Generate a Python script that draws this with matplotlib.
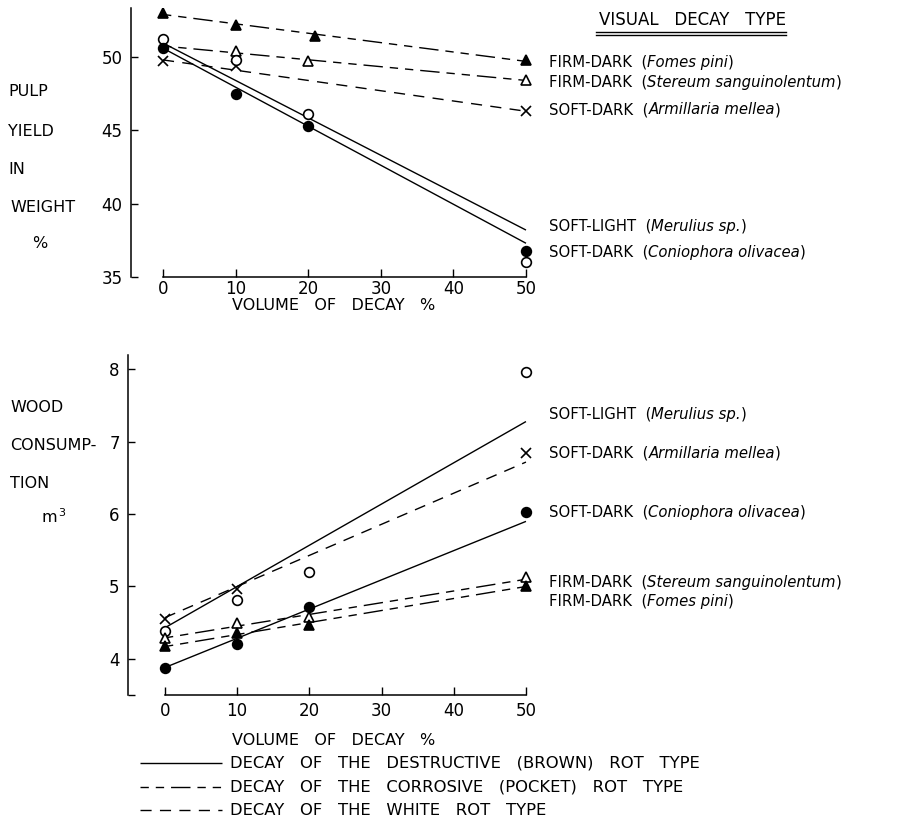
import matplotlib
matplotlib.use("Agg")
import matplotlib.pyplot as plt
from matplotlib.lines import Line2D

# ---------------- data ----------------
x_ticks = [0, 10, 20, 30, 40, 50]
x_tick_labels = ["0", "10", "20", "30", "40", "50"]

# Top panel: pulp yield in weight %
top_y_ticks = [35, 40, 45, 50]
top_y_tick_labels = ["35", "40", "45", "50"]
fomes_top_x = [0, 10, 21, 50]
fomes_top_y = [53.0, 52.2, 51.4, 49.8]
stereum_top_x = [10, 20, 50]
stereum_top_y = [50.4, 49.7, 48.4]
armillaria_top_x = [0, 10, 50]
armillaria_top_y = [49.7, 49.4, 46.3]
merulius_top_x = [0, 10, 20, 50]
merulius_top_y = [51.2, 49.8, 46.1, 36.0]
coniophora_top_x = [0, 10, 20, 50]
coniophora_top_y = [50.6, 47.5, 45.3, 36.8]
# fitted lines (values at x = 0 and x = 50)
line_x = [0, 50]
fomes_top_fit = [52.9, 49.7]
stereum_top_fit = [50.75, 48.4]
armillaria_top_fit = [49.8, 46.3]
merulius_top_fit = [50.95, 38.2]
coniophora_top_fit = [50.6, 37.3]

# Bottom panel: wood consumption m3
bot_y_ticks = [3.5, 4, 5, 6, 7, 8]
bot_y_tick_labels = ["", "4", "5", "6", "7", "8"]
merulius_bot_x = [0, 10, 20, 50]
merulius_bot_y = [4.39, 4.82, 5.20, 7.97]
armillaria_bot_x = [0, 10, 50]
armillaria_bot_y = [4.55, 4.97, 6.85]
coniophora_bot_x = [0, 10, 20, 50]
coniophora_bot_y = [3.88, 4.21, 4.72, 6.03]
stereum_bot_x = [0, 10, 20, 50]
stereum_bot_y = [4.29, 4.50, 4.58, 5.13]
fomes_bot_x = [0, 10, 20, 50]
fomes_bot_y = [4.18, 4.36, 4.47, 5.00]
merulius_bot_fit = [4.43, 7.28]
armillaria_bot_fit = [4.57, 6.72]
coniophora_bot_fit = [3.88, 5.90]
stereum_bot_fit = [4.29, 5.10]
fomes_bot_fit = [4.17, 5.00]

# ---------------- styles ----------------
W, H = 905, 821
FONT = "DejaVu Sans"
plt.rcParams["font.family"] = [FONT]

SOLID = (0, ())
CORROSIVE = (0, (6, 5, 6, 5, 14, 5))
WHITE = (0, (8, 6))

fig = plt.figure(figsize=(W / 100, H / 100), dpi=100)


def fx(px):
    return px / W


def fy(py):
    return 1 - py / H


def setup_axes(ax, xlim, ylim, ybounds, yticks, yticklabels, xpad):
    ax.set_xlim(*xlim)
    ax.set_ylim(*ylim)
    for s in ["top", "right"]:
        ax.spines[s].set_visible(False)
    ax.spines["bottom"].set_bounds(0, 50)
    ax.spines["left"].set_bounds(*ybounds)
    for s in ["bottom", "left"]:
        ax.spines[s].set_linewidth(1.1)
    ax.set_xticks(x_ticks)
    ax.set_xticklabels(x_tick_labels)
    ax.set_yticks(yticks)
    ax.set_yticklabels(yticklabels)
    ax.tick_params(axis="x", direction="in", length=6, width=1, labelsize=12, pad=xpad)
    ax.tick_params(axis="y", direction="in", length=5, width=1, labelsize=12, pad=6)
    ax.patch.set_alpha(0)


def draw(ax, x, y, fit, marker, filled, ls, ms=7):
    ax.plot(line_x, fit, color="black", lw=1.0, linestyle=ls, zorder=2)
    ax.plot(x, y, linestyle="none", marker=marker, ms=ms,
            markerfacecolor=("black" if filled else "white"),
            markeredgecolor="black", markeredgewidth=1.2, zorder=3)


# ---------------- top panel ----------------
ax1 = fig.add_axes([fx(131), fy(277), fx(535 - 131), (277 - 8) / H])
setup_axes(ax1, (-4.41, 51.24), (35, 53.34), (35, 53.34), top_y_ticks, top_y_tick_labels, 2)
draw(ax1, fomes_top_x, fomes_top_y, fomes_top_fit, "^", True, CORROSIVE)
draw(ax1, stereum_top_x, stereum_top_y, stereum_top_fit, "^", False, CORROSIVE)
draw(ax1, armillaria_top_x, armillaria_top_y, armillaria_top_fit, "x", False, WHITE)
draw(ax1, merulius_top_x, merulius_top_y, merulius_top_fit, "o", False, SOLID)
draw(ax1, coniophora_top_x, coniophora_top_y, coniophora_top_fit, "o", True, SOLID)

# ---------------- bottom panel ----------------
ax2 = fig.add_axes([fx(128), fy(695), fx(535 - 128), (695 - 355) / H])
setup_axes(ax2, (-5.12, 51.25), (3.5, 8.2), (3.5, 8.2), bot_y_ticks, bot_y_tick_labels, 5)
draw(ax2, merulius_bot_x, merulius_bot_y, merulius_bot_fit, "o", False, SOLID)
draw(ax2, armillaria_bot_x, armillaria_bot_y, armillaria_bot_fit, "x", False, WHITE)
draw(ax2, coniophora_bot_x, coniophora_bot_y, coniophora_bot_fit, "o", True, SOLID)
draw(ax2, stereum_bot_x, stereum_bot_y, stereum_bot_fit, "^", False, CORROSIVE)
draw(ax2, fomes_bot_x, fomes_bot_y, fomes_bot_fit, "^", True, CORROSIVE)

TS = 10.7


def label(px, py, plain, italic, size=TS):
    t1 = fig.text(fx(px), fy(py), plain + "(", fontsize=size, va="center", ha="left")
    a = ax1.annotate(italic, xy=(1, 0), xycoords=t1, va="bottom", ha="left",
                     fontsize=size, style="italic", annotation_clip=False)
    ax1.annotate(")", xy=(1, 0), xycoords=a, va="bottom", ha="left",
                 fontsize=size, annotation_clip=False)


# axis titles
fig.text(fx(334), fy(306), "VOLUME   OF   DECAY   %", fontsize=11.5, ha="center", va="center")
fig.text(fx(334), fy(740), "VOLUME   OF   DECAY   %", fontsize=11.5, ha="center", va="center")

for txt, px, py in [("PULP", 8, 92), ("YIELD", 8, 132), ("IN", 8, 169),
                    ("WEIGHT", 10, 207)]:
    fig.text(fx(px), fy(py), txt, fontsize=11.5, ha="left", va="center")
fig.text(fx(40), fy(243), "%", fontsize=11.5, ha="center", va="center")

for txt, px, py in [("WOOD", 10, 408), ("CONSUMP-", 10, 445), ("TION", 10, 483)]:
    fig.text(fx(px), fy(py), txt, fontsize=11.5, ha="left", va="center")
fig.text(fx(54), fy(517), "m$^{\\,3}$", fontsize=11.5, ha="center", va="center")

# header
fig.text(fx(692), fy(20), "VISUAL   DECAY   TYPE", fontsize=12, ha="center", va="center")
fig.add_artist(Line2D([fx(596), fx(786)], [fy(32), fy(32)], color="black", lw=1.0))
fig.add_artist(Line2D([fx(596), fx(786)], [fy(35.5), fy(35.5)], color="black", lw=1.0))

# species labels top
label(549, 62, "FIRM-DARK  ", "Fomes pini")
label(549, 82, "FIRM-DARK  ", "Stereum sanguinolentum")
label(549, 110, "SOFT-DARK  ", "Armillaria mellea")
label(549, 226, "SOFT-LIGHT  ", "Merulius sp.")
label(549, 252, "SOFT-DARK  ", "Coniophora olivacea")

# species labels bottom
label(549, 414, "SOFT-LIGHT  ", "Merulius sp.")
label(549, 453, "SOFT-DARK  ", "Armillaria mellea")
label(549, 512, "SOFT-DARK  ", "Coniophora olivacea")
label(549, 582, "FIRM-DARK  ", "Stereum sanguinolentum")
label(549, 601, "FIRM-DARK  ", "Fomes pini")

# legend
legend_items = [
    (SOLID, "DECAY   OF   THE   DESTRUCTIVE   (BROWN)   ROT   TYPE", 763),
    (CORROSIVE, "DECAY   OF   THE   CORROSIVE   (POCKET)   ROT   TYPE", 787),
    (WHITE, "DECAY   OF   THE   WHITE   ROT   TYPE", 810),
]
for ls, txt, py in legend_items:
    fig.add_artist(Line2D([fx(140), fx(222)], [fy(py), fy(py)], color="black",
                          lw=1.0, linestyle=ls))
    fig.text(fx(230), fy(py), txt, fontsize=11.8, ha="left", va="center")

fig.savefig("out.png", dpi=100)
